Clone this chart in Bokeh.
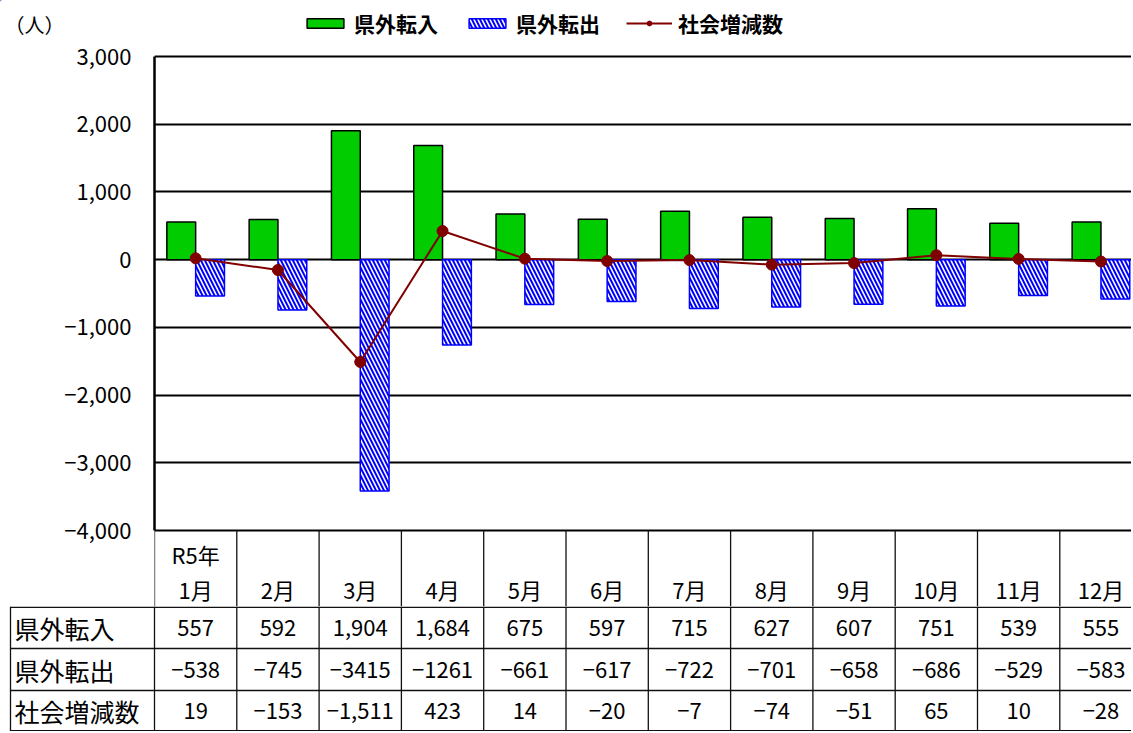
from bokeh.plotting import figure
from bokeh.models import (Range1d, FixedTicker, Legend, LegendItem, ColumnDataSource)
from bokeh.embed import file_html
from bokeh.resources import INLINE
from bokeh.core.properties import value

# ---------------- data ----------------
months = ["1月", "2月", "3月", "4月", "5月", "6月", "7月", "8月", "9月", "10月", "11月", "12月"]
year_label = "R5年"
inflow = [557, 592, 1904, 1684, 675, 597, 715, 627, 607, 751, 539, 555]
outflow = [-538, -745, -3415, -1261, -661, -617, -722, -701, -658, -686, -529, -583]
social = [19, -153, -1511, 423, 14, -20, -7, -74, -51, 65, 10, -28]
series_names = ["県外転入", "県外転出", "社会増減数"]
y_ticks = [-4000, -3000, -2000, -1000, 0, 1000, 2000, 3000]
y_tick_labels = ["−4,000", "−3,000", "−2,000", "−1,000", "0", "1,000", "2,000", "3,000"]
unit_label = "（人）"

FONT = "Noto Sans CJK JP"
MINUS = "−"

# ---------------- geometry ----------------
W = 1131
L = 154
S_PX = 82.3
X_END = 0.5 + (W - L) / S_PX
HDR_H = 40
PLOT_PX = 474          # 3000 .. -4000
HEAD = 76              # table header row inside chart figure
ABOVE = 16             # empty frame space above 3000
ppu = PLOT_PX / 7000.0
Y_HI = 3000 + ABOVE / ppu
Y_LO = -4000 - HEAD / ppu
CH_H = ABOVE + PLOT_PX + HEAD

x = list(range(1, len(months) + 1))
bw = 0.35

IN_STYLE = dict(fill_color="#00CC00", line_color="black", line_width=1.5)
OUT_STYLE = dict(fill_color="white", line_color="#0000FF", line_width=1.5,
                 hatch_pattern="\\", hatch_color="#0000FF", hatch_weight=2.0, hatch_scale=8)
LINE_STYLE = dict(line_color="#800000", line_width=2)
PT_STYLE = dict(size=11, marker="circle", fill_color="#800000", line_color="#800000")

# ---------------- header (unit + legend) ----------------
h = figure(width=W, height=HDR_H, output_backend="svg", toolbar_location=None,
           x_range=Range1d(0, W), y_range=Range1d(HDR_H, 0), min_border=0)
h.outline_line_color = None
h.axis.visible = False
h.grid.visible = False
h.text(x=[4], y=[24], text=[unit_label], text_font=value(FONT), text_font_size="20px",
       text_align="left", text_baseline="middle", text_color="black")
# legend proxies (placed outside the visible range; only their styles are used)
proxy = ColumnDataSource(dict(x=[-1000], top=[-1000], bottom=[-1001], y=[-1000]))
d_in = h.vbar(x="x", top="top", bottom="bottom", width=1, source=proxy, **IN_STYLE)
d_out = h.vbar(x="x", top="top", bottom="bottom", width=1, source=proxy, **OUT_STYLE)
d_line = h.line(x="x", y="y", source=proxy, **LINE_STYLE)
d_pts = h.scatter(x="x", y="y", source=proxy, **PT_STYLE)
legend = Legend(items=[
    LegendItem(label=series_names[0], renderers=[d_in]),
    LegendItem(label=series_names[1], renderers=[d_out]),
    LegendItem(label=series_names[2], renderers=[d_line, d_pts]),
], orientation="horizontal", location=(302, 2))
legend.label_text_font = FONT
legend.label_text_font_size = "21px"
legend.label_text_font_style = "bold"
legend.label_text_color = "black"
legend.glyph_width = 46
legend.glyph_height = 12
legend.spacing = 26
legend.label_standoff = 6
legend.padding = 0
legend.margin = 0
legend.border_line_color = None
legend.background_fill_alpha = 0
h.add_layout(legend, "center")

# ---------------- chart ----------------
p = figure(width=W, height=CH_H, output_backend="svg", toolbar_location=None,
           x_range=Range1d(0.5, X_END), y_range=Range1d(Y_LO, Y_HI),
           min_border_left=L, min_border_right=0, min_border_top=0, min_border_bottom=0)
p.outline_line_color = None
p.xaxis.visible = False
p.xgrid.visible = False
p.ygrid.ticker = FixedTicker(ticks=y_ticks)
p.ygrid.grid_line_color = "black"
p.ygrid.grid_line_width = 2
p.yaxis.ticker = FixedTicker(ticks=y_ticks)
p.yaxis.bounds = (-4000, 3000)
p.yaxis.major_label_overrides = {t: l for t, l in zip(y_ticks, y_tick_labels)}
p.yaxis.major_label_text_font = FONT
p.yaxis.major_label_text_font_size = "22px"
p.yaxis.major_label_text_color = "black"
p.yaxis.major_label_standoff = 17
p.yaxis.major_tick_line_color = None
p.yaxis.minor_tick_line_color = None
p.yaxis.axis_line_color = "black"
p.yaxis.axis_line_width = 2.5

src = ColumnDataSource(dict(
    xin=[v - bw / 2 for v in x], xout=[v + bw / 2 for v in x], xc=x,
    inflow=inflow, outflow=outflow, social=social))

p.vbar(x="xin", top="inflow", bottom=0, width=bw, source=src, **IN_STYLE)
p.vbar(x="xout", top=0, bottom="outflow", width=bw, source=src, **OUT_STYLE)
p.line(x="xc", y="social", source=src, **LINE_STYLE)
p.scatter(x="xc", y="social", source=src, **PT_STYLE)

# table header row (inside chart figure, below -4000)
edges = [v - 0.5 for v in x]
p.segment(x0=edges, x1=edges, y0=[-4000] * len(edges), y1=[Y_LO] * len(edges),
          line_color="#111111", line_width=1.3)
p.text(x=x, y=[-4000 - 58 / ppu] * len(x), text=months, text_font=value(FONT),
       text_font_size="22px", text_align="center", text_baseline="middle", text_color="black")
p.text(x=[1], y=[-4000 - 23 / ppu], text=[year_label], text_font=value(FONT),
       text_font_size="22px", text_align="center", text_baseline="middle", text_color="black")

# ---------------- table body ----------------
ROWS_H = [42, 42, 41]
TH = sum(ROWS_H)
t = figure(width=W, height=TH, output_backend="svg", toolbar_location=None,
           x_range=Range1d(0.5 - L / S_PX, X_END), y_range=Range1d(TH, 0), min_border=0)
t.outline_line_color = None
t.axis.visible = False
t.grid.visible = False
x_lab = 0.5 - (L - 10) / S_PX

t.segment(x0=edges, x1=edges, y0=[0] * len(edges), y1=[TH] * len(edges),
          line_color="#111111", line_width=1.3)
t.segment(x0=[x_lab], x1=[x_lab], y0=[0], y1=[TH], line_color="#111111", line_width=1.3)
ys = [0.8, ROWS_H[0], ROWS_H[0] + ROWS_H[1], TH - 0.8]
t.segment(x0=[x_lab] * 4, x1=[X_END] * 4, y0=ys, y1=ys, line_color="#111111", line_width=1.5)

row_y = [ROWS_H[0] / 2, ROWS_H[0] + ROWS_H[1] / 2, ROWS_H[0] + ROWS_H[1] + ROWS_H[2] / 2]
t.text(x=[x_lab + 4 / S_PX] * 3, y=row_y, text=series_names, text_font=value(FONT),
       text_font_size="25px", text_align="left", text_baseline="middle", text_color="black")


def fmt_comma(v):
    return (MINUS if v < 0 else "") + f"{abs(v):,}"


def fmt_plain(v):
    return (MINUS if v < 0 else "") + f"{abs(v)}"


rows_txt = [[fmt_comma(v) for v in inflow],
            [fmt_plain(v) for v in outflow],
            [fmt_comma(v) for v in social]]
for i, txt in enumerate(rows_txt):
    t.text(x=x, y=[row_y[i]] * len(x), text=txt, text_font=value(FONT), text_font_size="22px",
           text_align="center", text_baseline="middle", text_color="black")

open("out.html", "w").write(file_html([h, p, t], INLINE))
